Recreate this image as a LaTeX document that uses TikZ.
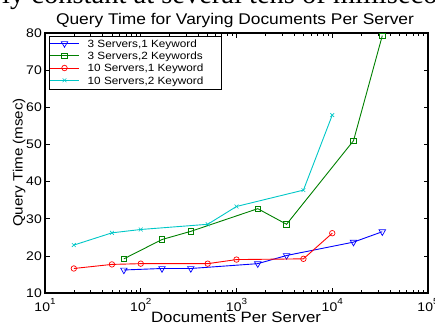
\documentclass[tikz,border=0pt]{standalone}
\usepackage{fontspec}
\setmainfont{Liberation Sans}[FakeStretch=1.12]
\newfontfamily\serifx{Liberation Serif}
\usetikzlibrary{shapes.geometric,shapes.misc}
\definecolor{ggreen}{rgb}{0,0.5,0}
\definecolor{ccyan}{rgb}{0,0.78,0.78}
% px takes log10 of the data value
\pgfmathdeclarefunction{px}{1}{\pgfmathparse{45+95.75*(#1-1)}}
\pgfmathdeclarefunction{py}{1}{\pgfmathparse{293-3.7143*(#1-10)}}
\begin{document}
\begin{tikzpicture}[x=1pt,y=-1pt,
  axisline/.style={line width=1.1pt,black},
  tickline/.style={line width=0.6pt,black},
  series/.style={line width=0.9pt},
  tri/.style={draw=blue,line width=0.7pt,regular polygon,regular polygon sides=3,shape border rotate=180,minimum size=7.5pt,inner sep=0pt},
  sq/.style={draw=ggreen,line width=0.7pt,rectangle,minimum size=5.5pt,inner sep=0pt},
  circ/.style={draw=red,line width=0.7pt,circle,minimum size=5.5pt,inner sep=0pt},
  xmk/.style={draw=ccyan,line width=0.6pt,cross out,minimum size=3.2pt,inner sep=0pt},
  ticklab/.style={font=\fontsize{12.5}{12.5}\selectfont,inner sep=0pt},
  legtext/.style={anchor=base west,font=\fontsize{10.5}{12}\selectfont,inner sep=0pt}]
\useasboundingbox (0,0) rectangle (435,324);
% cut-off line of text at the very top
\begin{scope}
\clip (0,0) rectangle (435,324);
\node[anchor=base west,inner sep=0pt,font=\serifx\fontsize{28.5}{28.5}\selectfont] (cut) at (-7.5,3.3) {rly constant at several tens of milliseconds};
\end{scope}
% title
\node[anchor=base,inner sep=0pt,font=\fontsize{15.5}{15.5}\selectfont] (title) at (235,24.5) {Query Time for Varying Documents Per Server};
% axes box
\draw[axisline] (45,33) rectangle (428,293);
% y ticks and labels
\foreach \v in {10,20,...,80}{
  \draw[tickline] (45,{py(\v)}) -- (49.5,{py(\v)});
  \draw[tickline] (428,{py(\v)}) -- (423.5,{py(\v)});
  \node[ticklab,anchor=east] (yl\v) at (42,{py(\v)}) {\v};
}
% x ticks
\foreach \d in {1,...,5}{
  \draw[tickline] ({45+95.75*(\d-1)},293) -- ({45+95.75*(\d-1)},288);
  \draw[tickline] ({45+95.75*(\d-1)},33) -- ({45+95.75*(\d-1)},38);
  \node[ticklab,anchor=base] (xl\d) at ({45+95.75*(\d-1)},311) {10\raisebox{6.3pt}{\fontsize{8.8}{8.8}\selectfont\d}};
}
\foreach \d in {1,...,4}{
  \foreach \k in {2,...,9}{
    \draw[tickline] ({45+95.75*(\d-1+log10(\k))},293) -- ({45+95.75*(\d-1+log10(\k))},290);
    \draw[tickline] ({45+95.75*(\d-1+log10(\k))},33) -- ({45+95.75*(\d-1+log10(\k))},36);
  }
}
% axis labels
\node[anchor=base,inner sep=0pt,font=\fontsize{15}{15}\selectfont] (xlab) at (236,322.3) {Documents Per Server};
\node[anchor=base,rotate=90,inner sep=0pt,font=\fontsize{13.5}{13.5}\selectfont] (ylab) at (22.5,162.5) {Query Time (msec)};
% series 1: 3 servers, 1 keyword
\foreach \a/\b [count=\i] in {1.8239/16.2,2.2219/16.6,2.5228/16.6,3.2219/17.9,3.5228/20.1,4.2219/23.7,4.5228/26.5}
  \node[tri] (b\i) at ({px(\a)},{py(\b)}) {};
\draw[series,blue] (b1.center) \foreach \i in {2,...,7}{ -- (b\i.center)};
% series 2: 3 servers, 2 keywords
\foreach \a/\b [count=\i] in {1.8239/19.2,2.2219/24.4,2.5228/26.6,3.2219/32.7,3.5228/28.5,4.2219/51.0,4.5228/79.3}
  \node[sq] (g\i) at ({px(\a)},{py(\b)}) {};
\draw[series,ggreen] (g1.center) \foreach \i in {2,...,7}{ -- (g\i.center)};
% series 3: 10 servers, 1 keyword
\foreach \a/\b [count=\i] in {1.3010/16.6,1.6990/17.7,2/17.9,2.6990/17.9,3/19.0,3.6990/19.2,4/26.1}
  \node[circ] (r\i) at ({px(\a)},{py(\b)}) {};
\draw[series,red] (r1.center) \foreach \i in {2,...,7}{ -- (r\i.center)};
% series 4: 10 servers, 2 keyword
\foreach \a/\b [count=\i] in {1.3010/22.9,1.6990/26.2,2/27.1,2.6990/28.5,3/33.3,3.6990/37.7,4/57.9}
  \node[xmk] (c\i) at ({px(\a)},{py(\b)}) {};
\draw[series,ccyan] (c1.center) \foreach \i in {2,...,7}{ -- (c\i.center)};
% legend
\node[draw,line width=1.2pt,fill=white,anchor=north west,minimum width=172.5pt,minimum height=52.5pt,inner sep=0pt] (legend) at (48.5,36) {};
\node[tri] (lb) at (64.5,43.5) {};
\draw[series,blue] ([xshift=-14.5pt]lb.center) -- ([xshift=14.5pt]lb.center);
\node[legtext] (lt1) at (87.5,47.3) {3 Servers,1 Keyword};
\node[sq] (lg) at (64.5,55.7) {};
\draw[series,ggreen] ([xshift=-14.5pt]lg.center) -- ([xshift=14.5pt]lg.center);
\node[legtext] (lt2) at (87.5,59.5) {3 Servers,2 Keywords};
\node[circ] (lr) at (64.5,68) {};
\draw[series,red] ([xshift=-14.5pt]lr.center) -- ([xshift=14.5pt]lr.center);
\node[legtext] (lt3) at (87.5,71.8) {10 Servers,1 Keyword};
\node[xmk] (lc) at (64.5,80.3) {};
\draw[series,ccyan] ([xshift=-14.5pt]lc.center) -- ([xshift=14.5pt]lc.center);
\node[legtext] (lt4) at (87.5,84.1) {10 Servers,2 Keyword};
\end{tikzpicture}
\end{document}
